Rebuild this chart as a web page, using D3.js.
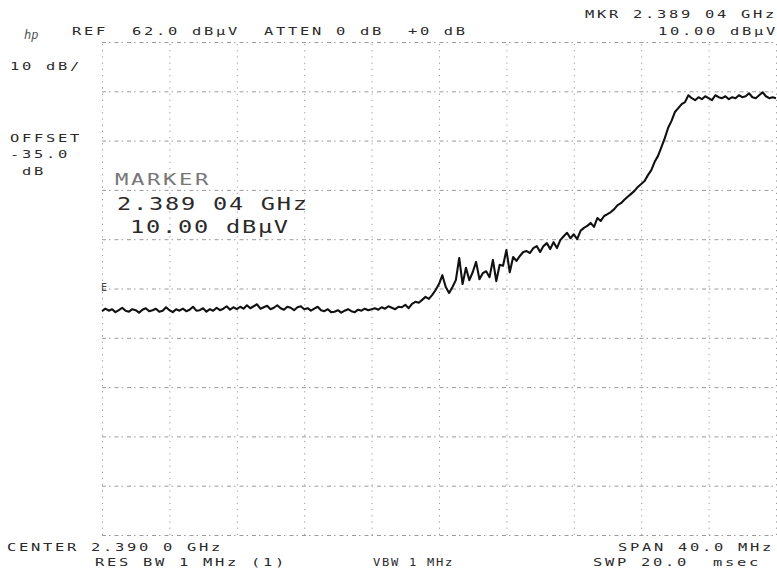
<!DOCTYPE html>
<html>
<head>
<meta charset="utf-8">
<script src="https://cdn.jsdelivr.net/npm/d3@7"></script>
<style>
  body { margin: 0; background: #fff; }
  svg { display: block; }
  text { font-family: "DejaVu Sans Mono", monospace; }
</style>
</head>
<body>
<svg width="777" height="578"></svg>
<script>
// analyzer settings
var refLevel = 62.0      // dBµV, top line
var dbPerDiv = 10
var centerMHz = 2390.0
var spanMHz = 40.0

// grid divisions (10 x 10)
var divFreqs = [2370, 2374, 2378, 2382, 2386, 2390, 2394, 2398, 2402, 2406, 2410]
var divLevels = [-38, -28, -18, -8, 2, 12, 22, 32, 42, 52, 62]

// trace, one reading every 0.2 MHz from 2370 to 2410 MHz (dBµV)
var levels = [
  7.4, 7.9, 7.5, 7.8, 7.2, 7.6, 8.1, 7.5, 7.3, 7.8, 7.6, 7.1, 7.7, 8.0, 7.4, 7.6, 7.9, 7.3, 7.5, 8.2,
  7.6, 7.2, 7.8, 7.5, 7.9, 7.4, 7.7, 8.3, 7.5, 7.6, 8.0, 7.3, 7.8, 7.5, 8.1, 7.6, 7.9, 8.4, 7.7, 8.2,
  7.8, 8.3, 7.9, 8.6, 8.0, 8.4, 8.8, 7.9, 8.2, 8.5, 7.8, 8.1, 8.6, 8.0, 7.7, 8.3, 8.1, 7.6, 8.2, 8.4,
  7.8, 8.0, 7.5, 7.9, 8.3, 7.6, 7.4, 7.8, 7.2, 7.3, 7.6, 7.1, 7.5, 7.8, 7.4, 7.2, 7.7, 7.5, 7.9, 7.6,
  7.8, 8.0, 7.7, 8.2, 7.9, 8.4, 8.1, 7.8, 8.3, 8.2, 8.7, 8.0, 8.9, 9.3, 9.1, 9.7, 10.3, 9.9, 10.7, 11.7,
  12.9, 14.7, 12.3, 11.1, 12.3, 13.7, 18.2, 12.9, 16.2, 13.7, 15.3, 17.4, 13.9, 15.1, 15.5, 14.3, 17.8, 13.5, 16.8, 16.6,
  19.8, 15.3, 18.4, 17.6, 18.6, 19.4, 19.6, 19.2, 20.2, 20.6, 19.4, 20.6, 21.2, 20.0, 21.4, 20.2, 21.8, 22.6, 23.3, 22.2,
  23.0, 22.0, 23.7, 24.3, 24.7, 25.3, 24.5, 26.3, 25.7, 26.7, 27.1, 27.5, 28.1, 28.9, 29.3, 30.0, 30.6, 31.2, 31.8, 32.6,
  33.2, 33.8, 35.0, 36.0, 37.7, 38.9, 40.7, 42.5, 44.6, 46.0, 47.8, 48.6, 49.4, 49.8, 51.2, 50.6, 50.2, 50.8, 50.4, 51.0,
  50.6, 50.2, 51.2, 50.8, 50.6, 51.0, 50.4, 50.8, 50.6, 51.2, 50.8, 51.0, 51.6, 50.8, 50.6, 51.2, 51.8, 51.0, 50.6, 50.8,
  50.6
]

var svg = d3.select("svg")

// graticule box (window.top is reserved, so no plain "top")
var gLeft = 102, gRight = 776, gTop = 42, gBottom = 535

var x = d3.scaleLinear()
    .domain([centerMHz - spanMHz / 2, centerMHz + spanMHz / 2])
    .range([gLeft, gRight])

var y = d3.scaleLinear()
    .domain([refLevel - 10 * dbPerDiv, refLevel])
    .range([gBottom, gTop])

var step = spanMHz / (levels.length - 1)

// graticule, vertical lines
svg.append("g")
    .attr("class", "vgrid")
    .attr("transform", "translate(0," + gBottom + ")")
    .call(d3.axisBottom(x).tickValues(divFreqs).tickSize(-(gBottom - gTop)).tickFormat(""))
    .call(function(g) { g.select(".domain").remove() })
    .selectAll("line")
      .attr("stroke", "#9a9a9a")
      .attr("stroke-dasharray", "1.2 5")

// graticule, horizontal lines
svg.append("g")
    .attr("class", "hgrid")
    .attr("transform", "translate(" + gLeft + ",0)")
    .call(d3.axisLeft(y).tickValues(divLevels).tickSize(-(gRight - gLeft)).tickFormat(""))
    .call(function(g) { g.select(".domain").remove() })
    .selectAll("line")
      .attr("stroke", "#9a9a9a")
      .attr("stroke-dasharray", "4 3 1.5 4")

// trace
var line = d3.line()
    .x(function(d, i) { return x(centerMHz - spanMHz / 2 + i * step) })
    .y(function(d) { return y(d) })

svg.append("path")
    .datum(levels)
    .attr("fill", "none")
    .attr("stroke", "#111")
    .attr("stroke-width", 2.1)
    .attr("stroke-linejoin", "round")
    .attr("d", line)

// screen annotations in the wide stroke font style
// adv = distance from one character to the next, sx = horizontal stretch
function label(px, py, str, size, adv, sx, fill) {
  svg.append("text")
    .attr("transform", "translate(" + px + "," + py + ") scale(" + sx + ",1)")
    .attr("font-size", size)
    .attr("letter-spacing", adv / sx - 0.602 * size)
    .attr("fill", fill || "#2a2a2a")
    .attr("xml:space", "preserve")
    .style("white-space", "pre")
    .text(str)
}

label(585, 18, "MKR 2.389 04 GHz", 11, 12, 1.4)
label(72, 35, "REF  62.0 dBµV  ATTEN 0 dB  +0 dB", 11, 12, 1.4)
label(658, 35, "10.00 dBµV", 11, 12, 1.4)
label(10, 70, "10 dB/", 11, 12, 1.4)
label(10, 142, "OFFSET", 11, 12, 1.4)
label(10, 158, "-35.0", 11, 12, 1.4)
label(10, 175, " dB", 11, 12, 1.4)

label(115, 185, "MARKER", 16.5, 16, 1.35, "#777")
label(117, 210, "2.389 04 GHz", 17.5, 16, 1.35)
label(130, 233, "10.00 dBµV", 17.5, 16, 1.35)

label(7, 551, "CENTER 2.390 0 GHz", 11, 12, 1.4)
label(618, 551, "SPAN 40.0 MHz", 11, 12, 1.4)
label(95, 566, "RES BW 1 MHz (1)", 11, 12, 1.4)
label(373, 566, "VBW 1 MHz", 11, 9, 1.1)
label(593, 566, "SWP 20.0  msec", 11, 12, 1.4)

// reference marker on the left edge and the logo
label(101, 291, "E", 10, 7, 1, "#444")
svg.append("text")
    .attr("x", 24)
    .attr("y", 39)
    .attr("font-size", 12)
    .attr("font-style", "italic")
    .attr("fill", "#555")
    .text("hp")
</script>
</body>
</html>
